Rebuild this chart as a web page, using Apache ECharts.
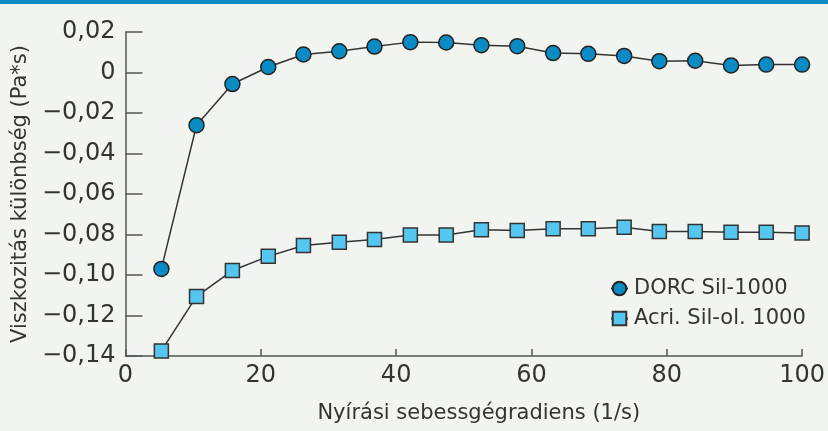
<!DOCTYPE html>
<html>
<head>
<meta charset="utf-8">
<script src="https://cdn.jsdelivr.net/npm/echarts@6/dist/echarts.min.js"></script>
<style>
  html, body { margin: 0; padding: 0; background: #f2f5ef; }
  #chart { width: 828px; height: 431px; }
</style>
</head>
<body>
<div id="chart"></div>
<script>
// shear rate (1/s)
const shearRate = [5.3, 10.5, 15.8, 21.1, 26.3, 31.6, 36.8, 42.1, 47.4, 52.6, 57.9, 63.2, 68.4, 73.7, 78.9, 84.2, 89.5, 94.7, 100]
// viscosity difference (Pa*s)
const dorc = [-0.097, -0.026, -0.0057, 0.0027, 0.0089, 0.0105, 0.0128, 0.015, 0.0148, 0.0135, 0.013, 0.0096, 0.0092, 0.0082, 0.0056, 0.0058, 0.0035, 0.0039, 0.0039]
const acri = [-0.1375, -0.1106, -0.0978, -0.0908, -0.0854, -0.0838, -0.0825, -0.0803, -0.0803, -0.0777, -0.078, -0.0772, -0.0772, -0.0764, -0.0785, -0.0785, -0.0789, -0.0789, -0.0792]
const seriesNames = ['DORC Sil-1000', 'Acri. Sil-ol. 1000']

const font = 'DejaVu Sans'
const txt = '#333333'
const axisCol = '#555555'

const pairs = ys => shearRate.map((x, i) => [x, ys[i]])
const fmtY = v => {
  if (Math.abs(v) < 1e-9) return '0'
  return v.toFixed(2).replace('-', '\u2212').replace('.', ',')
}

const chart = echarts.init(document.getElementById('chart'))
chart.setOption({
  backgroundColor: '#f2f5ef',
  animation: false,
  textStyle: { fontFamily: font },
  graphic: [{
    type: 'rect', left: 0, top: 0,
    shape: { width: 828, height: 4 },
    style: { fill: '#0d8bc2' }
  }],
  grid: { left: 125.5, right: 22.5, top: 32, bottom: 75 },
  legend: {
    data: seriesNames,
    orient: 'vertical',
    left: 605, top: 273,
    itemWidth: 17, itemHeight: 17, itemGap: 9,
    textStyle: { fontFamily: font, fontSize: 21, color: txt, padding: [0, 0, 0, 1] }
  },
  xAxis: {
    type: 'value', min: 0, max: 100, interval: 20,
    name: 'Nyírási sebessgégradiens (1/s)',
    nameLocation: 'middle', nameGap: 47,
    nameTextStyle: { fontFamily: font, fontSize: 21, color: txt, padding: [0, 0, 0, 30] },
    axisLine: { onZero: false, lineStyle: { color: axisCol, width: 1.5 } },
    axisTick: { inside: true, length: 7, lineStyle: { color: axisCol, width: 1.5 } },
    axisLabel: { fontFamily: font, fontSize: 24, color: txt, margin: 8 },
    splitLine: { show: false }
  },
  yAxis: {
    type: 'value', min: -0.14, max: 0.02, interval: 0.02,
    name: 'Viszkozitás különbség (Pa*s)',
    nameLocation: 'middle', nameGap: 84,
    nameTextStyle: { fontFamily: font, fontSize: 21, color: txt },
    axisLine: { show: true, onZero: false, lineStyle: { color: axisCol, width: 1.5 } },
    axisTick: { show: true, inside: true, length: 17, lineStyle: { color: axisCol, width: 1.5 } },
    axisLabel: { fontFamily: font, fontSize: 24, color: txt, margin: 10, formatter: fmtY },
    splitLine: { show: false }
  },
  series: [
    {
      name: seriesNames[0], type: 'line', data: pairs(dorc),
      symbol: 'circle', symbolSize: 15,
      lineStyle: { color: '#333333', width: 1.5 },
      itemStyle: { color: '#0b8bc3', borderColor: '#222222', borderWidth: 1.5 }
    },
    {
      name: seriesNames[1], type: 'line', data: pairs(acri),
      symbol: 'rect', symbolSize: 14,
      lineStyle: { color: '#333333', width: 1.5 },
      itemStyle: { color: '#55c6ef', borderColor: '#333333', borderWidth: 1.5 }
    }
  ]
})
</script>
</body>
</html>
